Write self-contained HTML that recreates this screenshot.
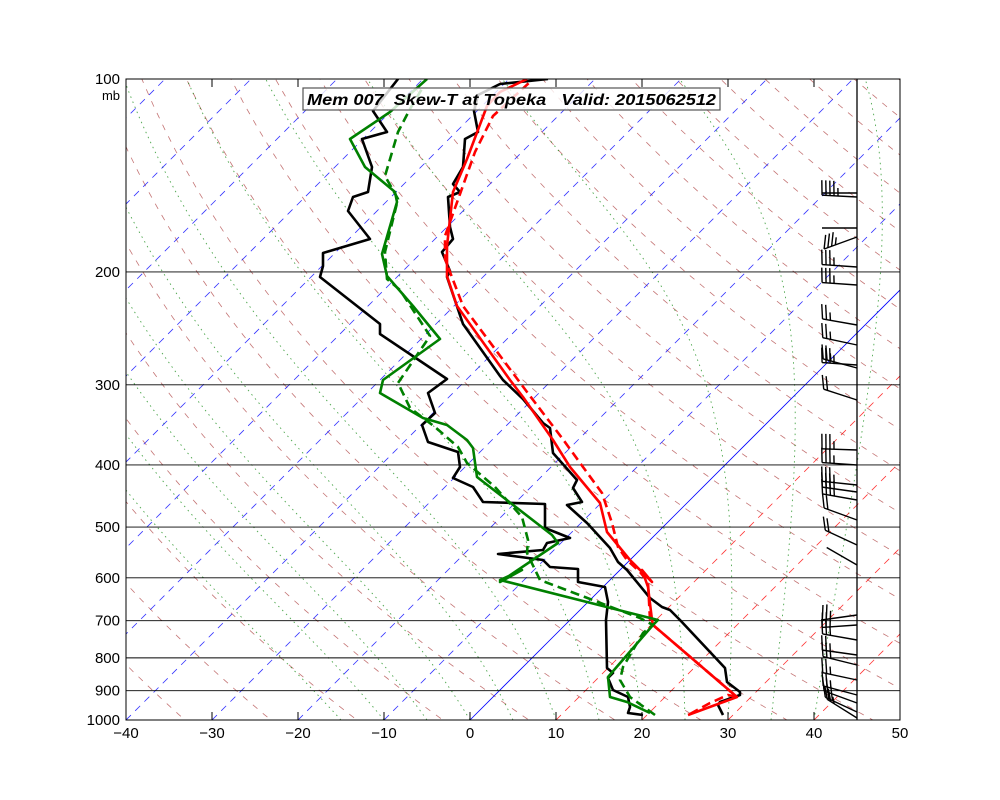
<!DOCTYPE html>
<html><head><meta charset="utf-8"><style>
body{margin:0;background:#fff}
svg{display:block;font-family:"Liberation Sans",sans-serif}
</style></head><body>
<svg id="s" width="1000" height="800" xmlns="http://www.w3.org/2000/svg">
<defs><clipPath id="c"><rect x="126" y="79" width="774" height="641"/></clipPath></defs>
<rect width="1000" height="800" fill="#fff"/>
<g id="bg" clip-path="url(#c)"></g>
<g id="data" clip-path="url(#c)" fill="none" stroke-width="2.6" stroke-linejoin="round"></g>
<g id="barbs" stroke="#000" stroke-width="1.4" fill="none"></g>
<rect x="126" y="79" width="774" height="641" fill="none" stroke="#000" stroke-width="1"/>
<line x1="857" y1="79" x2="857" y2="720" stroke="#000" stroke-width="1.3"/>
<g id="ticks" stroke="#000" stroke-width="1"></g>
<g font-size="15" fill="#000" id="labels"></g>
<rect x="303" y="88" width="417" height="22" fill="#fff" fill-opacity="0.8" stroke="#555" stroke-width="1.2"/>
<text x="307" y="105" font-size="16" font-weight="bold" font-style="italic" textLength="409" lengthAdjust="spacingAndGlyphs" xml:space="preserve">Mem 007  Skew-T at Topeka   Valid: 2015062512</text>
</svg>
<script>
const NS="http://www.w3.org/2000/svg";
function el(p,t,a){const e=document.createElementNS(NS,t);for(const k in a)e.setAttribute(k,a[k]);p.appendChild(e);return e;}
const Y=p=>79+641*Math.log10(p/100);
const X=(T,y)=>470+8.6*T+(720-y);
const bg=document.getElementById('bg');
for(let th=230;th<=480;th+=10){let pts=[];for(let p=1050;p>=95;p-=10){const T=th*Math.pow(p/1000,0.286)-273.15;const y=Y(p);pts.push(X(T,y).toFixed(1)+','+y.toFixed(1));}
el(bg,'polyline',{points:pts.join(' '),fill:'none',stroke:'#a52a2a','stroke-opacity':0.65,'stroke-width':0.8,'stroke-dasharray':'6,7'});}
function es(t){return 6.112*Math.exp(17.67*t/(t+243.5));}
for(let T0=-15;T0<=40;T0+=5){let T=T0+273.15,p=1000,pts=[];
while(p>=95){const y=Y(p);pts.push(X(T-273.15,y).toFixed(1)+','+y.toFixed(1));
const e=es(T-273.15),rs=0.622*e/(p-e);const dTdp=(1/p)*(287*T+2.5e6*rs)/(1004+2.5e6*2.5e6*rs*0.622/(287*T*T));T-=dTdp*5;p-=5;}
el(bg,'polyline',{points:pts.join(' '),fill:'none',stroke:'#008000','stroke-opacity':0.7,'stroke-width':0.9,'stroke-dasharray':'1.5,4'});}
for(let T=-140;T<=60;T+=10){const x1=X(T,720),x2=X(T,79);
const c=T<=0?'#0000ff':'#ff0000';
const a={x1:x1,y1:720,x2:x2,y2:79,stroke:c,'stroke-width':0.8};if(T!=0){a['stroke-dasharray']='7,6';a['stroke-opacity']=0.8;}
el(bg,'line',a);}
for(let p=200;p<=900;p+=100){el(bg,'line',{x1:126,x2:900,y1:Y(p),y2:Y(p),stroke:'#000','stroke-width':0.9});}
const d=document.getElementById('data');
function line(pts,c,dash){const a={points:pts,stroke:c};if(dash)a['stroke-dasharray']='9,5';el(d,'polyline',a);}
line("398,79 373,111 387,132 362,139 372,167 368,192 353,197 348,211 370,239 323,253 323,266 320,277 380,324 380,334 447,379 428,393 435,413 422,425 428,442 458,452 460,467 453,478 473,487 483,502 545,504 545,528 570,538 547,543 543,550 498,554 543,560 550,567 578,569 578,582 605,587 608,602 606,620 607,668 613,673 608,678 613,690 628,697 630,707 628,713 643,715",'#000');
line("723,715 718,705 720,702 740,695 740,692 727,682 725,668 680,620 670,610 662,607 650,598 627,570 618,562 610,548 587,523 567,505 582,502 573,488 577,480 553,453 550,428 543,423 523,399 503,380 500,376 463,324 447,277 450,271 442,252 453,239 450,227 448,197 460,192 453,184 463,167 465,139 478,132 474,111 478,95 500,84 548,79",'#000');
line("688,715 737,697 653,625 652,620 648,587 642,570 652,582 630,560 607,532 600,503 570,467 553,440 523,397 510,380 457,306 447,276 447,246 453,192 467,159 487,106 500,92 527,79",'#f00');
line("690,714 710,703 728,695 737,697 653,625 650,620 648,582 640,572 627,560 618,547 612,523 602,493 583,467 562,438 527,392 463,306 445,259 445,236 475,152 493,116 530,82",'#f00',1);
line("650,713 627,702 610,697 608,677 653,625 658,620 500,580 522,570 500,582 558,543 552,535 477,477 473,448 467,440 447,425 423,418 380,393 383,380 440,339 413,306 387,276 382,254 397,202 395,192 365,167 350,139 390,112 427,79",'#008000');
line("655,715 630,697 620,680 623,667 643,633 653,625 640,618 540,580 527,553 528,540 522,517 495,487 467,463 458,447 435,427 410,408 398,383 430,336 400,290 387,279 385,252 398,199 385,176 398,132 410,109 423,87",'#008000',1);
const bb=document.getElementById('barbs');
const B=[[197,3,5],[193,0,0],[237,-20,4],[228,0,0],[267,4,4],[285,4,4],[325,10,3],[345,12,3],[365,4,4],[368,15,3],[400,18,2],[450,2,4],[465,4,4],[485,6,4],[492,8,4],[500,10,4],[520,20,2],[545,25,2],[565,30,0],[615,-8,3],[625,-4,3],[640,10,3],[655,8,3],[665,14,3],[680,12,3],[695,15,3],[703,20,3],[712,25,3],[718,32,3]];
for(const [y,ang,n] of B){const a=ang*Math.PI/180,L=35;const x1=857-L*Math.cos(a),y1=y-L*Math.sin(a);
el(bb,'line',{x1:857,y1:y,x2:x1,y2:y1});
for(let i=0;i<n;i++){const t=L-i*4;const bx=857-t*Math.cos(a),by=y-t*Math.sin(a);const ln=i==n-1&&n>2?8:15;
el(bb,'line',{x1:bx,y1:by,x2:bx-ln*Math.sin(a)*0.3,y2:by-ln*Math.cos(a)});}}
const tk=document.getElementById('ticks'),lb=document.getElementById('labels');
for(let k=0;k<=9;k++){const x=126+86*k;el(tk,'line',{x1:x,x2:x,y1:720,y2:712});el(tk,'line',{x1:x,x2:x,y1:79,y2:87});
const t=el(lb,'text',{x:x,y:738,'text-anchor':'middle'});t.textContent=String(-40+10*k).replace('-','\u2212');}
for(let p=100;p<=1000;p+=100){const y=Y(p);const t=el(lb,'text',{x:120,y:y+5,'text-anchor':'end'});t.textContent=p;}
const m=el(lb,'text',{x:120,y:100,'text-anchor':'end','font-size':13});m.textContent='mb';
</script>
</body></html>
